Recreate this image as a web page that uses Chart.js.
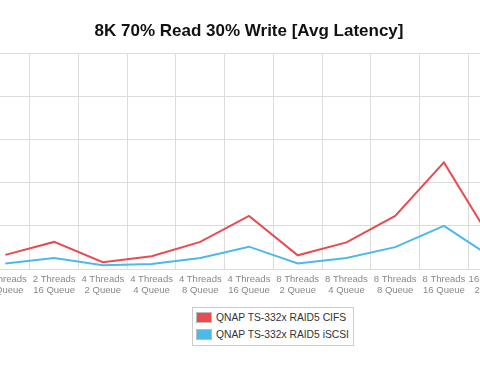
<!DOCTYPE html>
<html>
<head>
<meta charset="utf-8">
<script src="https://cdn.jsdelivr.net/npm/chart.js@4.4.1/dist/chart.umd.min.js"></script>
<style>
  html, body { margin: 0; padding: 0; background: #fff; overflow: hidden; }
  #wrap { position: relative; width: 480px; height: 371px; overflow: hidden; }
  #holder { position: absolute; left: -53px; top: 0; width: 600px; height: 301px; }
  #legend {
    position: absolute; left: 192px; top: 307px; width: 160px; height: 37px;
    border: 1px solid #ccc; font: 10.3px "Liberation Sans", Arial, sans-serif; color: #333;
  }
  #legend .row { position: absolute; left: 3px; height: 11px; line-height: 11px; white-space: nowrap; }
  #legend .sw { display: inline-block; width: 14px; height: 9px; border: 1px solid #bbb; padding: 0; vertical-align: top; margin: 0 4px 0 0; }
</style>
</head>
<body>
<div id="wrap">
  <div id="holder"><canvas id="chart"></canvas></div>
  <div id="legend"></div>
</div>
<script>
const chartTitle = '8K 70% Read 30% Write [Avg Latency]';

const categories = [
  ['2 Threads', '8 Queue'],
  ['2 Threads', '16 Queue'],
  ['4 Threads', '2 Queue'],
  ['4 Threads', '4 Queue'],
  ['4 Threads', '8 Queue'],
  ['4 Threads', '16 Queue'],
  ['8 Threads', '2 Queue'],
  ['8 Threads', '4 Queue'],
  ['8 Threads', '8 Queue'],
  ['8 Threads', '16 Queue'],
  ['16 Threads', '2 Queue']
];

const seriesNames = ['QNAP TS-332x RAID5 CIFS', 'QNAP TS-332x RAID5 iSCSI'];
const seriesColors = ['#e94b50', '#4cb9ea'];

const cifsLatency = [0.33, 0.63, 0.16, 0.30, 0.63, 1.23, 0.32, 0.62, 1.23, 2.47, 0.63];
const iscsiLatency = [0.13, 0.26, 0.09, 0.12, 0.26, 0.52, 0.13, 0.26, 0.51, 1.00, 0.26];

function buildLegend(container) {
  seriesNames.forEach(function (name, i) {
    let row = document.createElement('div');
    row.className = 'row';
    row.style.top = (4 + i * 17) + 'px';
    let sw = document.createElement('span');
    sw.className = 'sw';
    sw.style.background = seriesColors[i];
    row.appendChild(sw);
    row.appendChild(document.createTextNode(name));
    container.appendChild(row);
  });
}

function drawChart(canvas) {
  let ctx = canvas.getContext('2d');
  let data = {
    labels: categories,
    datasets: [
      {
        label: seriesNames[0],
        data: cifsLatency,
        borderColor: seriesColors[0],
        borderWidth: 2,
        pointRadius: 0,
        tension: 0,
        fill: false,
      },
      {
        label: seriesNames[1],
        data: iscsiLatency,
        borderColor: seriesColors[1],
        borderWidth: 2,
        pointRadius: 0,
        tension: 0,
        fill: false,
      }
    ]
  };

  let chart = new Chart(ctx, {
    type: 'line',
    data: data,
    options: {
      responsive: true,
      maintainAspectRatio: false,
      animation: false,
      layout: { padding: { left: 34, right: 30, top: 0, bottom: 0 } },
      plugins: {
        legend: { display: false },
        tooltip: { enabled: false },
        title: {
          display: true,
          text: chartTitle,
          color: '#111',
          font: { family: '"Liberation Sans", Arial, sans-serif', size: 17, weight: 'bold' },
          padding: { top: 21, bottom: 11.6 },
        }
      },
      scales: {
        x: {
          type: 'category',
          offset: true,
          grid: { offset: true, color: '#dcdcdc', drawTicks: false },
          border: { color: '#dcdcdc' },
          ticks: {
            color: '#888888',
            font: { family: '"Liberation Sans", Arial, sans-serif', size: 9.5, lineHeight: 1.15 },
            padding: 5,
            maxRotation: 0,
            autoSkip: false,
          }
        },
        y: {
          min: 0,
          max: 5,
          ticks: { stepSize: 1, display: false },
          grid: { color: '#dcdcdc', drawTicks: false },
          border: { display: false },
        }
      }
    }
  });

  canvas.chart = chart;
}

buildLegend(document.getElementById('legend'));
drawChart(document.getElementById('chart'));
</script>
</body>
</html>
